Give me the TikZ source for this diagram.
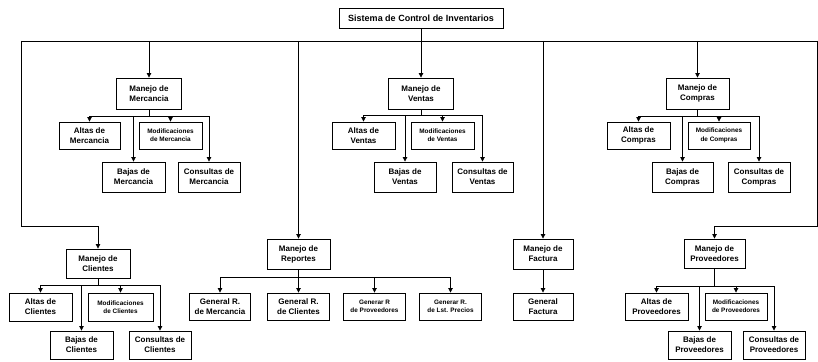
\documentclass[tikz,border=0pt]{standalone}
\usepackage{fontspec}
\setmainfont{Liberation Sans}
\usetikzlibrary{arrows.meta}
\begin{document}
\begin{tikzpicture}[x=1pt, y=-1pt,
  box/.style={draw, line width=0.9pt, fill=white, align=center, inner sep=0pt,
    font=\bfseries\fontsize{8}{10}\selectfont},
  tiny/.style={font=\bfseries\fontsize{6.4}{8.4}\selectfont},
  ln/.style={line width=0.8pt},
  arr/.style={line width=0.8pt, -{Triangle[length=4.5pt,width=4.5pt]}}]
\useasboundingbox (0,0) rectangle (818,361);

% root
\node[box, minimum width=164pt, minimum height=20pt, font=\bfseries\fontsize{9}{10}\selectfont] (root) at (421,18) {Sistema de Control de Inventarios};

% main bus and its far ends
\coordinate (busL) at (21,41);
\coordinate (busR) at (817,41);
\coordinate (lowL) at (21,226);
\coordinate (lowR) at (817,226);

% first-level modules, upper row
\node[box, minimum width=65pt, minimum height=31pt] (mMer) at (149,93.5) {Manejo de\\Mercancia};
\node[box, minimum width=65pt, minimum height=31pt] (mVen) at (421,93.5) {Manejo de\\Ventas};
\node[box, minimum width=63pt, minimum height=31pt] (mCom) at (697.5,93.5) {Manejo de\\Compras};

% first-level modules, lower row
\node[box, minimum width=64pt, minimum height=29pt] (mCli) at (98,263.5) {Manejo de\\Clientes};
\node[box, minimum width=63pt, minimum height=30pt] (mRep) at (298.5,254) {Manejo de\\Reportes};
\node[box, minimum width=60pt, minimum height=30pt] (mFac) at (543,254) {Manejo de\\Factura};
\node[box, minimum width=61pt, minimum height=29pt] (mPro) at (714.5,253.5) {Manejo de\\Proveedores};

% Mercancia
\node[box, minimum width=61pt, minimum height=27pt] (altMer) at (89.5,135.5) {Altas de\\Mercancia};
\node[box, tiny, minimum width=63pt, minimum height=27pt] (modMer) at (170.5,135.5) {Modificaciones\\de Mercancia};
\node[box, minimum width=63pt, minimum height=30pt] (bajMer) at (133.5,177) {Bajas de\\Mercancia};
\node[box, minimum width=62pt, minimum height=30pt] (conMer) at (209,177) {Consultas de\\Mercancia};

% Ventas
\node[box, minimum width=63pt, minimum height=27pt] (altVen) at (363.5,135.5) {Altas de\\Ventas};
\node[box, tiny, minimum width=63pt, minimum height=27pt] (modVen) at (442.5,135.5) {Modificaciones\\de Ventas};
\node[box, minimum width=62pt, minimum height=30pt] (bajVen) at (405,177) {Bajas de\\Ventas};
\node[box, minimum width=61pt, minimum height=30pt] (conVen) at (482.5,177) {Consultas de\\Ventas};

% Compras
\node[box, minimum width=63pt, minimum height=27pt] (altCom) at (638.5,135.5) {Altas de\\Compras};
\node[box, tiny, minimum width=62pt, minimum height=27pt] (modCom) at (719,135.5) {Modificaciones\\de Compras};
\node[box, minimum width=61pt, minimum height=30pt] (bajCom) at (682.5,177) {Bajas de\\Compras};
\node[box, minimum width=62pt, minimum height=30pt] (conCom) at (759,177) {Consultas de\\Compras};

% Clientes
\node[box, minimum width=63pt, minimum height=28pt] (altCli) at (40.5,307) {Altas de\\Clientes};
\node[box, tiny, minimum width=65pt, minimum height=28pt] (modCli) at (120.5,307) {Modificaciones\\de Clientes};
\node[box, minimum width=63pt, minimum height=28pt] (bajCli) at (81.5,345) {Bajas de\\Clientes};
\node[box, minimum width=62pt, minimum height=28pt] (conCli) at (160,345) {Consultas de\\Clientes};

% Reportes
\node[box, minimum width=61pt, minimum height=27pt] (genMer) at (220,306.5) {General R.\\de Mercancia};
\node[box, minimum width=62pt, minimum height=27pt] (genCli) at (298.5,306.5) {General R.\\de Clientes};
\node[box, tiny, minimum width=62pt, minimum height=27pt] (genPro) at (374.5,306.5) {Generar R\\de Proveedores};
\node[box, tiny, minimum width=62pt, minimum height=27pt] (genLst) at (450.5,306.5) {Generar R.\\de Lst. Precios};

% Factura
\node[box, minimum width=60pt, minimum height=27pt] (genFac) at (543,306.5) {General\\Factura};

% Proveedores
\node[box, minimum width=63pt, minimum height=27pt] (altPro) at (656.5,306.5) {Altas de\\Proveedores};
\node[box, tiny, minimum width=62pt, minimum height=27pt] (modPro) at (736,306.5) {Modificaciones\\de Proveedores};
\node[box, minimum width=63pt, minimum height=28pt] (bajPro) at (699.5,345) {Bajas de\\Proveedores};
\node[box, minimum width=62pt, minimum height=28pt] (conPro) at (774,345) {Consultas de\\Proveedores};

% sub-bus heights
\coordinate (yMer) at (0,116);
\coordinate (yVen) at (0,115);
\coordinate (yCom) at (0,116);
\coordinate (yCli) at (0,285);
\coordinate (yRep) at (0,277);
\coordinate (yPro) at (0,286);

% root to main bus
\draw[ln] (busL) -- (busR);
\draw[arr] (root.south) -- (mVen.north);
\draw[arr] (mMer.north |- busL) -- (mMer.north);
\draw[arr] (mCom.north |- busL) -- (mCom.north);
\draw[arr] (mRep.north |- busL) -- (mRep.north);
\draw[arr] (mFac.north |- busL) -- (mFac.north);
\draw[arr] (busL) -- (lowL) -| (mCli.north);
\draw[arr] (busR) -- (lowR) -| (mPro.north);

% Mercancia branches
\draw[arr] (mMer.south) -- (mMer.south |- yMer) -| (altMer.north);
\draw[arr] (mMer.south |- yMer) -| (modMer.north);
\draw[arr] (mMer.south |- yMer) -| (bajMer.north);
\draw[arr] (mMer.south |- yMer) -| (conMer.north);

% Ventas branches
\draw[arr] (mVen.south) -- (mVen.south |- yVen) -| (altVen.north);
\draw[arr] (mVen.south |- yVen) -| (modVen.north);
\draw[arr] (mVen.south |- yVen) -| (bajVen.north);
\draw[arr] (mVen.south |- yVen) -| (conVen.north);

% Compras branches
\draw[arr] (mCom.south) -- (mCom.south |- yCom) -| (altCom.north);
\draw[arr] (mCom.south |- yCom) -| (modCom.north);
\draw[arr] (mCom.south |- yCom) -| (bajCom.north);
\draw[arr] (mCom.south |- yCom) -| (conCom.north);

% Clientes branches
\draw[arr] (mCli.south) -- (mCli.south |- yCli) -| (altCli.north);
\draw[arr] (mCli.south |- yCli) -| (modCli.north);
\draw[arr] (mCli.south |- yCli) -| (bajCli.north);
\draw[arr] (mCli.south |- yCli) -| (conCli.north);

% Reportes branches
\draw[arr] (mRep.south) -- (mRep.south |- yRep) -| (genMer.north);
\draw[arr] (mRep.south) -- (genCli.north);
\draw[arr] (mRep.south |- yRep) -| (genPro.north);
\draw[arr] (mRep.south |- yRep) -| (genLst.north);

% Factura branch
\draw[arr] (mFac.south) -- (genFac.north);

% Proveedores branches
\draw[arr] (mPro.south) -- (mPro.south |- yPro) -| (altPro.north);
\draw[arr] (mPro.south |- yPro) -| (modPro.north);
\draw[arr] (mPro.south |- yPro) -| (bajPro.north);
\draw[arr] (mPro.south |- yPro) -| (conPro.north);
\end{tikzpicture}
\end{document}
